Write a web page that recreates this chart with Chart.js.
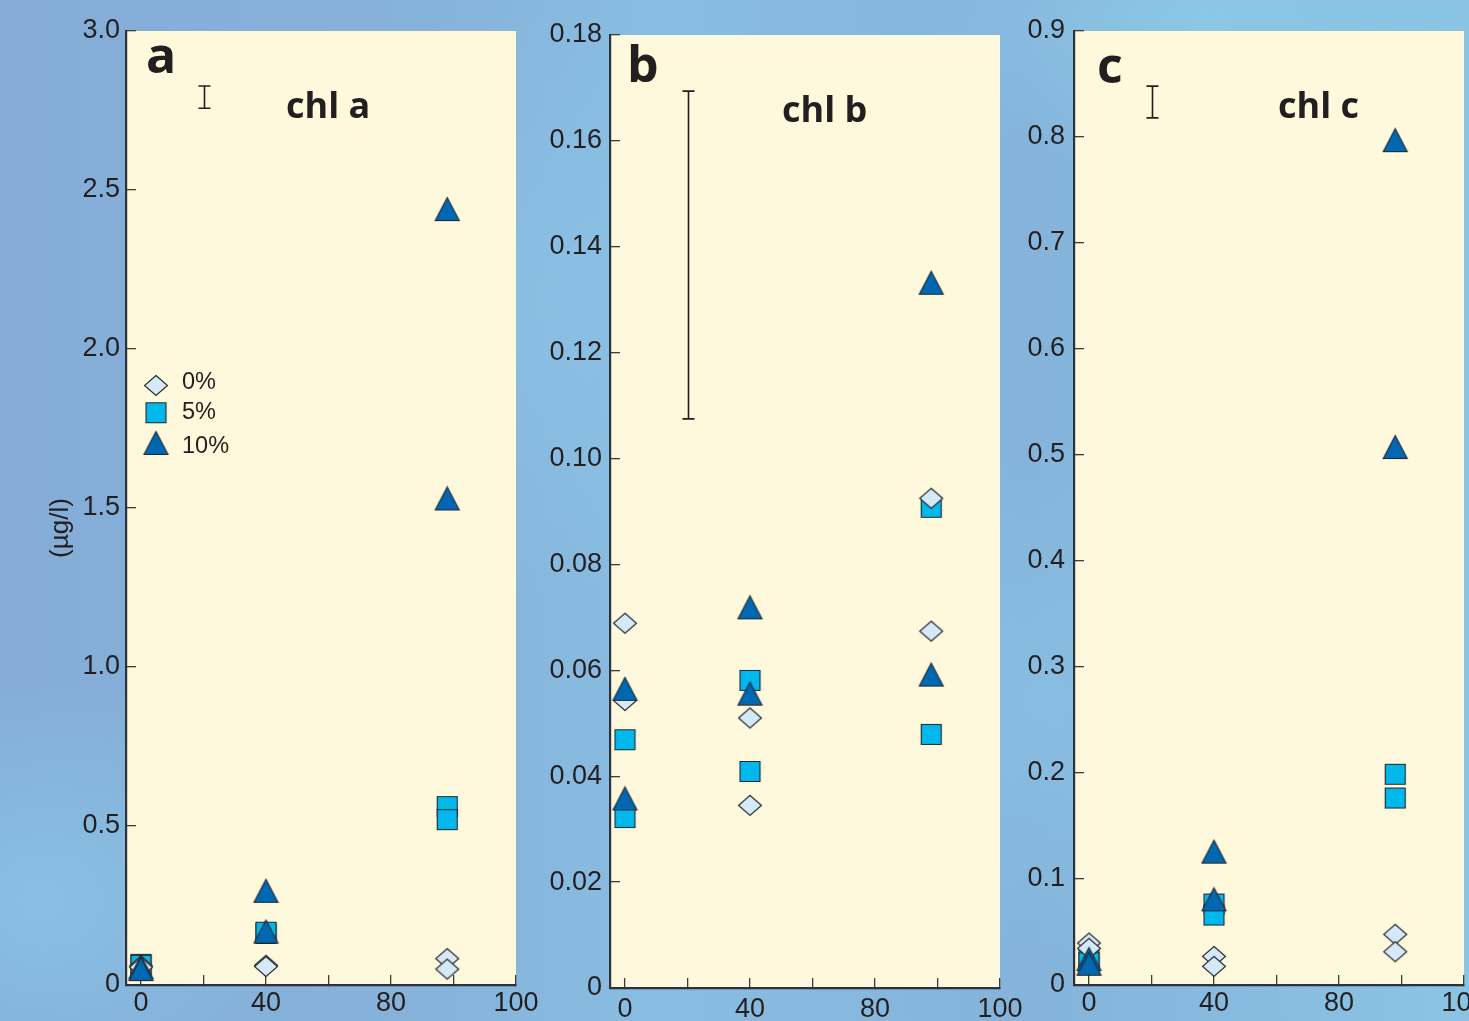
<!DOCTYPE html>
<html>
<head>
<meta charset="utf-8">
<script src="https://cdn.jsdelivr.net/npm/chart.js@4/dist/chart.umd.min.js"></script>
<style>
html,body{margin:0;padding:0;width:1469px;height:1021px;overflow:hidden;position:relative;}
body{
  background:
    radial-gradient(ellipse 260px 220px at 40px 900px, rgba(140,205,235,0.6), rgba(140,205,235,0) 100%),
    radial-gradient(ellipse 300px 160px at 1200px 20px, rgba(142,208,235,0.6), rgba(142,208,235,0) 100%),
    radial-gradient(ellipse 200px 300px at 560px 300px, rgba(140,200,232,0.45), rgba(140,200,232,0) 100%),
    radial-gradient(ellipse 200px 260px at 1040px 700px, rgba(138,200,232,0.5), rgba(138,200,232,0) 100%),
    linear-gradient(90deg, #84acd7 0%, #86b3da 30%, #89bde2 45%, #85b3da 70%, #8ac4e4 100%);
}
canvas{position:absolute;top:0;}
</style>
</head>
<body>
<canvas id="ca" width="540" height="1021" style="left:0px;width:540px;height:1021px"></canvas>
<canvas id="cb" width="500" height="1021" style="left:535px;width:500px;height:1021px"></canvas>
<canvas id="cc" width="454" height="1021" style="left:1010px;width:454px;height:1021px"></canvas>
<script>
// ---------------- DATA ----------------
const seriesLabels = ['0%', '5%', '10%'];
const sampleX = [0, 0, 40, 40, 98, 98];

const chlA_0  = [0.060, 0.056, 0.062, 0.058, 0.083, 0.050];
const chlA_5  = [0.065, 0.062, 0.162, 0.166, 0.561, 0.520];
const chlA_10 = [0.056, 0.050, 0.296, 0.168, 2.440, 1.530];

const chlB_0  = [0.0689, 0.0543, 0.0510, 0.0345, 0.0925, 0.0674];
const chlB_5  = [0.0469, 0.0322, 0.0581, 0.0409, 0.0908, 0.0479];
const chlB_10 = [0.0565, 0.0358, 0.0719, 0.0556, 0.1332, 0.0592];

const chlC_0  = [0.0396, 0.0346, 0.0270, 0.0176, 0.0478, 0.0314];
const chlC_5  = [0.0250, 0.0210, 0.0764, 0.0660, 0.1988, 0.1764];
const chlC_10 = [0.0245, 0.0200, 0.1258, 0.0808, 0.7970, 0.5075];

const xTickValues = [0, 20, 40, 60, 80, 100, 120];
const xTickLabels = ['0', '', '40', '', '80', '', '100'];

const yTicksA = [0, 0.5, 1.0, 1.5, 2.0, 2.5, 3.0];
const yLabelsA = ['0', '0.5', '1.0', '1.5', '2.0', '2.5', '3.0'];
const yTicksB = [0, 0.02, 0.04, 0.06, 0.08, 0.10, 0.12, 0.14, 0.16, 0.18];
const yLabelsB = ['0', '0.02', '0.04', '0.06', '0.08', '0.10', '0.12', '0.14', '0.16', '0.18'];
const yTicksC = [0, 0.1, 0.2, 0.3, 0.4, 0.5, 0.6, 0.7, 0.8, 0.9];
const yLabelsC = ['0', '0.1', '0.2', '0.3', '0.4', '0.5', '0.6', '0.7', '0.8', '0.9'];

const errBarX = 20;
const errA = [2.757, 2.827];
const errB = [0.1075, 0.1694];
const errC = [0.818, 0.848];

const panelLetters = ['a', 'b', 'c'];
const panelTitles = ['chl a', 'chl b', 'chl c'];
const yAxisTitle = '(µg/l)';

// ---------------- MARKERS ----------------
function makeMarker(kind) {
  const c = document.createElement('canvas');
  let w, h;
  if (kind === 'diamond') { w = 24; h = 21; }
  else if (kind === 'square') { w = 21; h = 21; }
  else { w = 25; h = 24; }
  c.width = w + 2; c.height = h + 2;
  const g = c.getContext('2d');
  g.translate(1, 1);
  g.beginPath();
  if (kind === 'diamond') {
    g.moveTo(w / 2, 0.5); g.lineTo(w - 0.5, h / 2); g.lineTo(w / 2, h - 0.5); g.lineTo(0.5, h / 2); g.closePath();
    g.fillStyle = '#d4eaf7';
  } else if (kind === 'square') {
    g.rect(0.5, 0.5, w - 1, h - 1);
    g.fillStyle = '#00b8ec';
  } else {
    g.moveTo(w / 2, 0.5); g.lineTo(w - 0.5, h - 0.5); g.lineTo(0.5, h - 0.5); g.closePath();
    g.fillStyle = '#0068b2';
  }
  g.fill();
  g.lineWidth = 1.1;
  g.strokeStyle = '#24262c';
  g.stroke();
  return c;
}
const markers = [makeMarker('diamond'), makeMarker('square'), makeMarker('triangle')];
const drawOrder = [2, 3, 1];

// ---------------- PLUGINS ----------------
const plotBg = {
  id: 'plotBg',
  beforeDraw(chart) {
    const a = chart.chartArea, ctx = chart.ctx;
    ctx.save();
    ctx.fillStyle = '#fef8dc';
    ctx.fillRect(a.left, a.top, a.right - a.left, a.bottom - a.top);
    ctx.restore();
  }
};

const decor = {
  id: 'decor',
  afterDatasetsDraw(chart, args, o) {
    const ctx = chart.ctx;
    const xs = chart.scales.x, ys = chart.scales.y;
    ctx.save();
    // error bar
    const ex = Math.round(xs.getPixelForValue(errBarX)) + 0.5;
    const y1 = ys.getPixelForValue(o.err[0]);
    const y2 = ys.getPixelForValue(o.err[1]);
    ctx.strokeStyle = '#231f20';
    ctx.lineWidth = 1.6;
    ctx.beginPath();
    ctx.moveTo(ex, y1); ctx.lineTo(ex, y2);
    ctx.moveTo(ex - 6, y1); ctx.lineTo(ex + 6, y1);
    ctx.moveTo(ex - 6, y2); ctx.lineTo(ex + 6, y2);
    ctx.stroke();
    // letter & title
    ctx.fillStyle = '#231f20';
    ctx.textBaseline = 'alphabetic';
    ctx.textAlign = 'left';
    ctx.font = 'bold 50px "Open Sans", "Noto Sans", sans-serif';
    ctx.fillText(o.letter, o.letterX, o.letterY);
    ctx.font = 'bold 36px "Open Sans", "Noto Sans", sans-serif';
    ctx.fillText(o.title, o.titleX, o.titleY);
    // legend
    if (o.legend) {
      ctx.font = '23.5px "Liberation Sans", Arial, sans-serif';
      ctx.textBaseline = 'middle';
      o.legend.rows.forEach((ry, i) => {
        const m = markers[i];
        ctx.drawImage(m, o.legend.mx - m.width / 2, ry - m.height / 2);
        ctx.fillText(seriesLabels[i], o.legend.tx, o.legend.ty[i]);
      });
    }
    // y-axis title
    if (o.ytitle) {
      ctx.save();
      ctx.translate(o.ytitle.x, o.ytitle.y);
      ctx.rotate(-Math.PI / 2);
      ctx.font = '26px "Liberation Sans", Arial, sans-serif';
      ctx.textAlign = 'center';
      ctx.textBaseline = 'middle';
      ctx.fillText(yAxisTitle, 0, 0);
      ctx.restore();
    }
    ctx.restore();
  }
};

function makePanel(id, p) {
  const datasets = p.series.map((arr, i) => ({
    label: seriesLabels[i],
    data: sampleX.map((x, k) => ({ x: x, y: arr[k] })),
    pointStyle: markers[i],
    pointRadius: 12,
    pointHoverRadius: 12,
    showLine: false,
    order: drawOrder[i]
  }));
  new Chart(document.getElementById(id), {
    type: 'scatter',
    data: { datasets },
    plugins: [plotBg, decor],
    options: {
      responsive: false,
      animation: false,
      layout: { padding: { left: 0, right: p.padR, top: p.padT, bottom: 0 } },
      plugins: {
        legend: { display: false },
        tooltip: { enabled: false },
        decor: p.decor
      },
      scales: {
        x: {
          type: 'linear',
          min: -4.8, max: 120,
          afterBuildTicks(s) { s.ticks = xTickValues.map(v => ({ value: v })); },
          afterFit(s) { s.height = p.xAxisH; s.paddingLeft = 0; s.paddingRight = 0; },
          ticks: {
            autoSkip: false, maxRotation: 0,
            padding: p.xPad,
            color: '#231f20',
            font: { family: '"Liberation Sans", Arial, sans-serif', size: 27 },
            callback(v) { const i = xTickValues.indexOf(v); return i >= 0 ? xTickLabels[i] : ''; }
          },
          grid: { drawOnChartArea: false, drawTicks: true, tickLength: -10, color: '#3c3c3c', lineWidth: 1.3 },
          border: { display: true, color: '#2c3140', width: 2.2 }
        },
        y: {
          type: 'linear',
          min: 0, max: p.ymax,
          afterBuildTicks(s) { s.ticks = p.yTicks.map(v => ({ value: v })); },
          afterFit(s) { s.width = p.yAxisW; s.paddingTop = 0; s.paddingBottom = 0; },
          ticks: {
            autoSkip: false,
            padding: p.yPad,
            color: '#231f20',
            font: { family: '"Liberation Sans", Arial, sans-serif', size: 27 },
            callback(v) {
              const i = p.yTicks.findIndex(t => Math.abs(t - v) < 1e-9);
              return i >= 0 ? p.yLabels[i] : '';
            }
          },
          grid: { drawOnChartArea: false, drawTicks: true, tickLength: -10, color: '#3c3c3c', lineWidth: 1.3 },
          border: { display: true, color: '#2c3140', width: 2.2 }
        }
      }
    }
  });
}

makePanel('ca', {
  series: [chlA_0, chlA_5, chlA_10],
  ymax: 3.0, yTicks: yTicksA, yLabels: yLabelsA,
  yAxisW: 126, padR: 24, padT: 31, xAxisH: 36, xPad: 12, yPad: 16,
  decor: {
    err: errA, letter: panelLetters[0], title: panelTitles[0],
    letterX: 146, letterY: 73, titleX: 286, titleY: 118,
    legend: { mx: 156, rows: [385.5, 412.7, 443], tx: 182, ty: [383, 413, 447] },
    ytitle: { x: 61, y: 528 }
  }
});
makePanel('cb', {
  series: [chlB_0, chlB_5, chlB_10],
  ymax: 0.18, yTicks: yTicksB, yLabels: yLabelsB,
  yAxisW: 75, padR: 35, padT: 35, xAxisH: 33, xPad: 15, yPad: 18,
  decor: {
    err: errB, letter: panelLetters[1], title: panelTitles[1],
    letterX: 92, letterY: 82, titleX: 247, titleY: 122
  }
});
// panel c: canvas extends past the window edge so the last x label is cut as in the original
const cc = document.getElementById('cc');
cc.width = 480; cc.style.width = '480px';
makePanel('cc', {
  series: [chlC_0, chlC_5, chlC_10],
  ymax: 0.9, yTicks: yTicksC, yLabels: yLabelsC,
  yAxisW: 64, padR: 26, padT: 31, xAxisH: 36, xPad: 12, yPad: 19,
  decor: {
    err: errC, letter: panelLetters[2], title: panelTitles[2],
    letterX: 87, letterY: 83, titleX: 268, titleY: 118
  }
});
</script>
</body>
</html>
